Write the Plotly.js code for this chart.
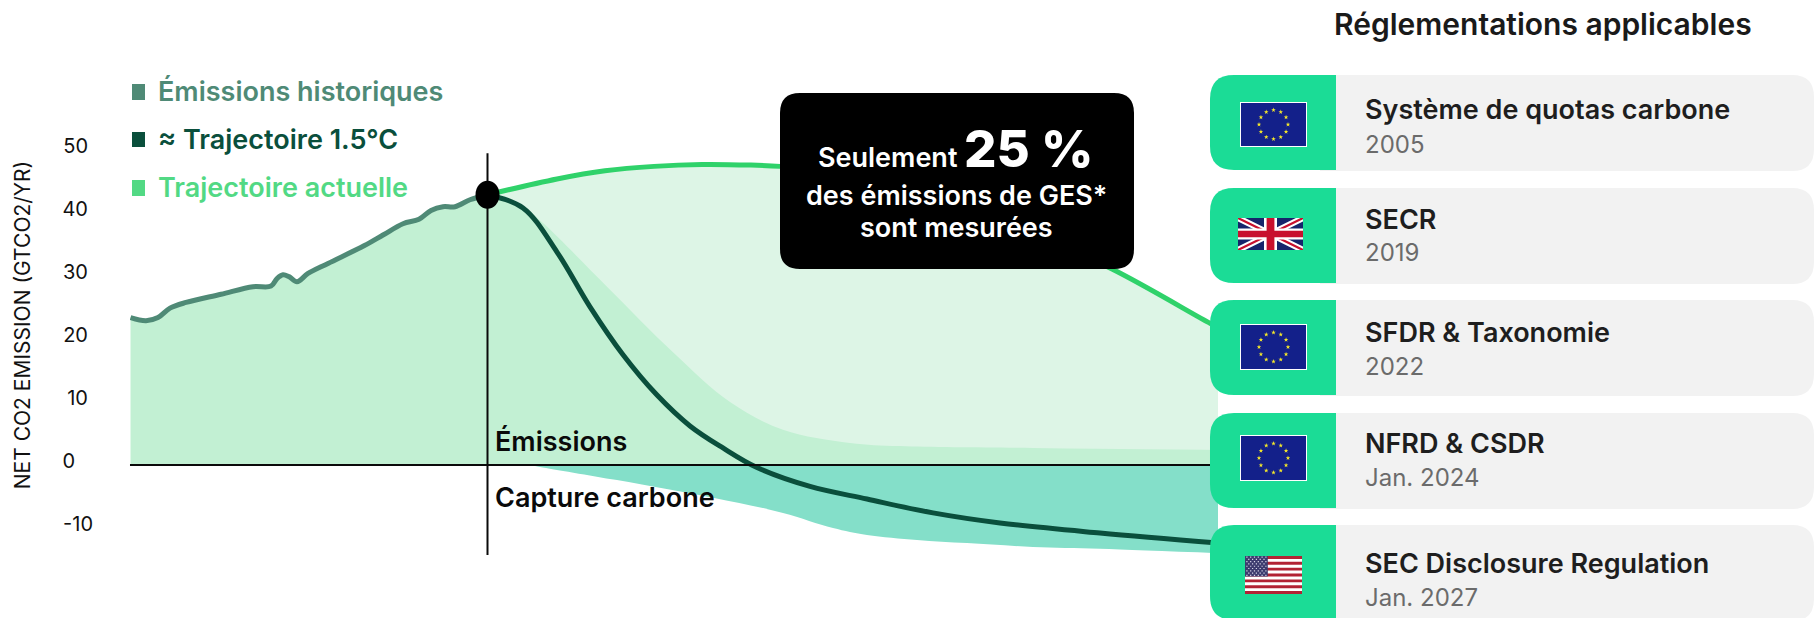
<!DOCTYPE html>
<html lang="fr">
<head>
<meta charset="utf-8">
<script src="https://cdn.plot.ly/plotly-3.0.1.min.js"></script>
<style>html,body{margin:0;padding:0;background:#fff;overflow:hidden}#chart{width:1814px;height:618px}</style>
</head>
<body>
<div id="chart"></div>
<script>
const yTickVals = [-10, 0, 10, 20, 30, 40, 50];
const yTickText = ['-10', '0\u2007\u2005', '10\u2005', '20\u2005', '30\u2005', '40\u2005', '50\u2005'];

const historicT = [0.5, 16, 28, 40, 56, 91, 123, 141, 147, 153, 159, 167, 178, 198, 234, 253, 273, 289, 301, 313, 325, 340, 357.5];
const historicV = [23.4, 22.9, 23.4, 24.9, 25.8, 27.1, 28.3, 28.4, 29.6, 30.2, 29.9, 29.1, 30.4, 32, 34.8, 36.5, 38.3, 39, 40.4, 41, 41, 42.1, 42.9];

const currentT = [357.5, 427, 475, 524, 572, 621, 650, 720, 790, 870, 982, 1080, 1088];
const currentV = [42.9, 45.4, 46.7, 47.4, 47.7, 47.6, 47.4, 46, 43.2, 39, 31.1, 22.5, 21.9];

const boundaryT = [357.5, 393, 413, 477, 543, 600, 653, 720, 770, 903, 1088];
const boundaryV = [42.9, 41.0, 38.4, 28.3, 17.9, 10, 5.6, 3.5, 3.0, 2.7, 2.4];

const captureT = [400, 410, 487, 583, 653, 703, 737, 787, 837, 903, 970, 1088];
const captureV = [0, -0.3, -2.4, -5.2, -7.6, -10, -11.1, -11.9, -12.4, -13, -13.3, -14];

const pathwayT = [357.5, 393, 427, 460, 493, 527, 560, 593, 627, 680, 737, 803, 870, 970, 1088];
const pathwayV = [42.9, 40.8, 33.8, 25.1, 17.5, 11.1, 6.2, 2.7, -0.4, -3.4, -5.4, -7.6, -9.2, -10.8, -12.4];

const legendLabels = ['Émissions historiques', '≈ Trajectoire 1.5°C', 'Trajectoire actuelle'];
const regTitles = ['Système de quotas carbone', 'SECR', 'SFDR & Taxonomie', 'NFRD & CSDR', 'SEC Disclosure Regulation'];
const regDates = ['2005', '2019', '2022', 'Jan. 2024', 'Jan. 2027'];

const W = 1814, H = 618;
const FONT = 'Inter, "Noto Sans", sans-serif';
const C = {hist:'#4f8a76', dark:'#0a4f3c', cur:'#2fd26a', curLegend:'#52d984', light:'#ddf5e6', mid:'#c2f0d3', teal:'#84dfc9', tile:'#1bdc96', card:'#f2f2f2'};
const px = x => (x / W).toFixed(5);
const py = y => (1 - y / H).toFixed(5);
const P = (x, y) => px(x) + ',' + py(y);

function round(x0, y0, x1, y1, rl, rr) {
  return 'M' + P(x0 + rl, y0) + ' L' + P(x1 - rr, y0) +
    (rr ? ' Q' + P(x1, y0) + ' ' + P(x1, y0 + rr) + ' L' + P(x1, y1 - rr) + ' Q' + P(x1, y1) + ' ' + P(x1 - rr, y1) : ' L' + P(x1, y1)) +
    ' L' + P(x0 + rl, y1) +
    (rl ? ' Q' + P(x0, y1) + ' ' + P(x0, y1 - rl) + ' L' + P(x0, y0 + rl) + ' Q' + P(x0, y0) + ' ' + P(x0 + rl, y0) : ' L' + P(x0, y0)) + ' Z';
}
function poly(pts) { return 'M' + pts.map(p => P(p[0], p[1])).join(' L') + ' Z'; }
function star(cx, cy, r) {
  const pts = [];
  for (let i = 0; i < 10; i++) {
    const a = -Math.PI / 2 + i * Math.PI / 5, q = i % 2 ? r * 0.4 : r;
    pts.push([cx + q * Math.cos(a), cy + q * Math.sin(a)]);
  }
  return poly(pts);
}
const fillShape = (path, color, extra) => Object.assign({type:'path', xref:'paper', yref:'paper', path, fillcolor:color, line:{width:0}, layer:'above'}, extra || {});
const rect = (x0, y0, x1, y1, color) => fillShape(poly([[x0,y0],[x1,y0],[x1,y1],[x0,y1]]), color);

function euFlag(x0, y0, x1, y1) {
  const cx = (x0 + x1) / 2, cy = (y0 + y1) / 2, stars = [];
  for (let i = 0; i < 12; i++) {
    const a = i * Math.PI / 6;
    stars.push(star(cx + 14.5 * Math.sin(a), cy - 14.5 * Math.cos(a), 2.4));
  }
  return [rect(x0, y0, x1, y1, '#ffffff'), rect(x0 + 1, y0 + 1, x1 - 1, y1 - 1, '#13208a'), fillShape(stars.join(' '), '#f5e829')];
}
function ukFlag(x0, y0, x1, y1) {
  const w = x1 - x0, h = y1 - y0, dx = w * 0.11, dy = h * 0.11;
  const X = x => x0 + x * w, Y = y => y0 + y * h;
  const diag = (d, e) => [
    poly([[x0,y0],[x0+d,y0],[x1,y1-e],[x1,y1],[x1-d,y1],[x0,y0+e]]),
    poly([[x1,y0],[x1-d,y0],[x0,y1-e],[x0,y1],[x0+d,y1],[x1,y0+e]])
  ].join(' ');
  return [
    rect(x0, y0, x1, y1, '#16246b'),
    fillShape(diag(dx, dy), '#ffffff'),
    fillShape(diag(dx * 0.35, dy * 0.35), '#c8102e'),
    rect(X(0.40), y0, X(0.60), y1, '#ffffff'), rect(x0, Y(0.33), x1, Y(0.67), '#ffffff'),
    rect(X(0.44), y0, X(0.56), y1, '#c8102e'), rect(x0, Y(0.40), x1, Y(0.60), '#c8102e')
  ];
}
function usFlag(x0, y0, x1, y1) {
  const out = [rect(x0, y0, x1, y1, '#ffffff')], sh = (y1 - y0) / 13;
  for (let i = 0; i < 13; i += 2) out.push(rect(x0, y0 + i * sh, x1, y0 + (i + 1) * sh, '#b22234'));
  const cx1 = x0 + (x1 - x0) * 0.4, cy1 = y0 + 7 * sh;
  out.push(rect(x0, y0, cx1, cy1, '#3c3b6e'));
  const dots = [];
  for (let r = 0; r < 9; r++) for (let c = 0; c < (r % 2 ? 5 : 6); c++) {
    const sx = x0 + (c + (r % 2 ? 1 : 0.5)) * (cx1 - x0) / 6, sy = y0 + (r + 0.5) * (cy1 - y0) / 9;
    dots.push(poly([[sx - 0.6, sy - 0.6], [sx + 0.6, sy - 0.6], [sx + 0.6, sy + 0.6], [sx - 0.6, sy + 0.6]]));
  }
  out.push(fillShape(dots.join(' '), '#d5d5e6'));
  return out;
}

const text = (t, x, y, size, color, weight, anchor) => ({
  text: t, xref:'paper', yref:'paper', x: +px(x), y: +py(y), xanchor: anchor || 'left', yanchor:'middle',
  showarrow:false, align: anchor || 'left', font:{family:FONT, size, color, weight: weight || 400}
});

const shapes = [];
const annotations = [];

// Axis marks
shapes.push({type:'line', xref:'paper', yref:'y', x0:+px(130), x1:+px(1212), y0:0, y1:0, line:{color:'#0a0a0a', width:2}, layer:'above'});
shapes.push({type:'line', xref:'x', yref:'y', x0:357.5, x1:357.5, y0:-14.3, y1:49.5, line:{color:'#0a0a0a', width:2}, layer:'above'});
shapes.push({type:'circle', xref:'x', yref:'y', xsizemode:'pixel', ysizemode:'pixel', xanchor:357.5, yanchor:42.9, x0:-12, x1:12, y0:-14, y1:14, fillcolor:'#000000', line:{width:0}, layer:'above'});

// Legend
[[84, 100, C.hist], [132, 147, C.dark], [180, 196, C.curLegend]].forEach(s => shapes.push(rect(132, s[0], 145, s[1], s[2])));
annotations.push(text(legendLabels[0], 156, 91, 27, C.hist, 600));
annotations.push(text(legendLabels[1], 156, 139, 27, C.dark, 600));
annotations.push(text(legendLabels[2], 156, 187, 27, C.curLegend, 600));

// Region labels
annotations.push(text('Émissions', 493, 442, 27, '#0a0a0a', 600));
annotations.push(text('Capture carbone', 493, 497, 27, '#0a0a0a', 600));

// Callout
shapes.push(fillShape(round(780, 93, 1134, 269, 20, 20), '#000000'));
annotations.push(text('Seulement', 816, 157, 27, '#ffffff', 600));
annotations.push(text('25 %', 962, 149, 51, '#ffffff', 800));
annotations.push(text('des émissions de GES*', 957, 196, 27, '#ffffff', 600, 'center'));
annotations.push(text('sont mesurées', 957, 228, 27, '#ffffff', 600, 'center'));

// Regulations panel
annotations.push(text('Réglementations applicables', 1332, 24, 30, '#1a1a1a', 600));
const cardTops = [75, 188, 300, 413, 525];
const titleY = [109, 219, 332, 443, 564];
const dateY = [144, 252, 367, 478, 597];
cardTops.forEach((top, i) => {
  shapes.push(fillShape(round(1320, top, 1814, top + 96, 0, 22), C.card));
  shapes.push(fillShape(round(1210, top, 1336, top + 95, 24, 0), C.tile));
  annotations.push(text(regTitles[i], 1363, titleY[i], 27, '#1e1e1e', 600));
  annotations.push(text(regDates[i], 1363, dateY[i], 24, '#6b6b6b', 400));
});
shapes.push(...euFlag(1240, 102, 1307, 147));
shapes.push(...ukFlag(1238, 218, 1303, 250));
shapes.push(...euFlag(1240, 324, 1307, 370));
shapes.push(...euFlag(1240, 435, 1307, 481));
shapes.push(...usFlag(1245, 556, 1302, 594));

const spline = {shape:'spline', smoothing:1};
const traces = [
  {x:currentT, y:currentV, name:legendLabels[2], mode:'lines', fill:'tozeroy', fillcolor:C.light, line:Object.assign({color:C.cur, width:5}, spline)},
  {x:boundaryT, y:boundaryV, name:'Réduction', mode:'lines', fill:'tozeroy', fillcolor:C.mid, line:Object.assign({color:C.mid, width:0}, spline)},
  {x:historicT, y:historicV, name:legendLabels[0], mode:'lines', fill:'tozeroy', fillcolor:C.mid, line:Object.assign({color:C.hist, width:5}, spline)},
  {x:captureT, y:captureV, name:'Capture carbone', mode:'lines', fill:'tozeroy', fillcolor:C.teal, line:Object.assign({color:C.teal, width:0}, spline)},
  {x:pathwayT, y:pathwayV, name:legendLabels[1], mode:'lines', line:Object.assign({color:C.dark, width:5}, spline)}
];

const layout = {
  width:W, height:H, autosize:false, showlegend:false,
  margin:{l:0, r:0, t:0, b:0, pad:0},
  paper_bgcolor:'#ffffff', plot_bgcolor:'rgba(0,0,0,0)',
  font:{family:FONT, color:'#111111'},
  xaxis:{domain:[130/W, 1218/W], range:[0, 1088], visible:false, fixedrange:true},
  yaxis:{
    domain:[0, 586/618], range:[-24.286, 68.73],
    anchor:'free', position:93/W,
    tickmode:'array', tickvals:yTickVals, ticktext:yTickText,
    ticks:'', showgrid:false, zeroline:false, showline:false, fixedrange:true,
    ticklabelshift:-4,
    tickfont:{family:FONT, size:20, color:'#111111'},
    title:{text:'NET CO2 EMISSION (GTCO2/YR)', standoff:25, font:{family:FONT, size:21, color:'#111111'}}
  },
  shapes, annotations
};
Plotly.newPlot('chart', traces, layout, {displayModeBar:false, staticPlot:true});
</script>
</body>
</html>
